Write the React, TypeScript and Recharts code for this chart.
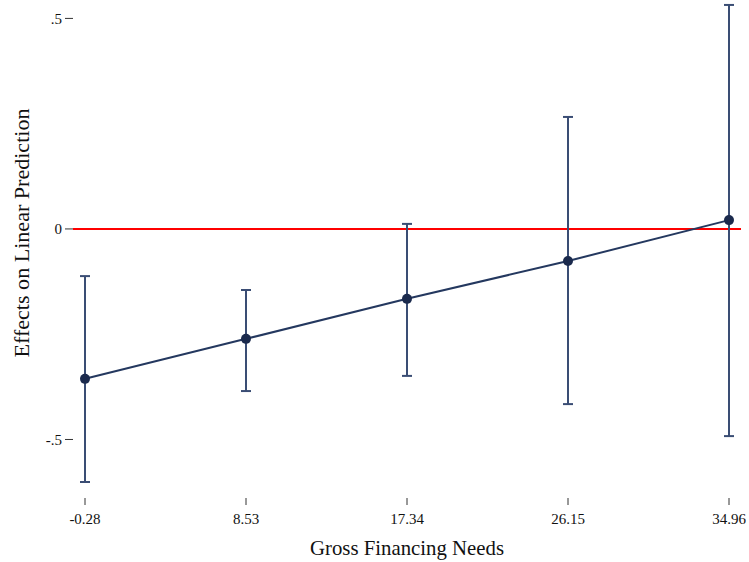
import React from 'react';
import { LineChart, Line, XAxis, YAxis, ErrorBar, ReferenceLine } from 'recharts';

// Marginal effects of gross financing needs, with 95% CIs.
const gfnLevels = [-0.28, 8.53, 17.34, 26.15, 34.96];
const effect = [-0.356, -0.261, -0.166, -0.076, 0.021];
const ciLow = [-0.601, -0.385, -0.349, -0.416, -0.492];
const ciHigh = [-0.112, -0.145, 0.012, 0.266, 0.532];
const yTicks = [-0.5, 0, 0.5];
const yTickLabels = ['-.5', '0', '.5'];

const data = gfnLevels.map((x, i) => ({
  x,
  effect: effect[i],
  err: [effect[i] - ciLow[i], ciHigh[i] - effect[i]],
}));

const FONT = '"Liberation Serif", "Times New Roman", serif';
const LINE = '#24385f';
const BAR = '#3a4d74';

function XTitle({ viewBox }: any) {
  const cx = viewBox.x + viewBox.width / 2;
  return (
    <text x={cx} y={555} textAnchor="middle" fontFamily={FONT} fontSize={21} fill="#111"
      textLength={194} lengthAdjust="spacingAndGlyphs">
      Gross Financing Needs
    </text>
  );
}

function YTitle() {
  return (
    <text x={0} y={0} transform="translate(29,233) rotate(-90)" textAnchor="middle"
      fontFamily={FONT} fontSize={21} fill="#111" textLength={249} lengthAdjust="spacingAndGlyphs">
      Effects on Linear Prediction
    </text>
  );
}

export default function App() {
  return (
    <div style={{ position: 'absolute', left: 0, top: 0, width: 749, height: 562, background: '#fff' }}>
      <LineChart width={749} height={562} data={data} margin={{ top: 2, right: 8, bottom: 0, left: 0 }}>
        <XAxis
          type="number"
          dataKey="x"
          domain={[-0.28, 34.96]}
          ticks={gfnLevels}
          tickFormatter={(v: number) => v.toFixed(2)}
          padding={{ left: 12, right: 12 }}
          axisLine={false}
          tickSize={7}
          tickMargin={8}
          tickLine={{ stroke: '#333' }}
          tick={{ fill: '#111', fontFamily: FONT, fontSize: 15 }}
          height={64}
          label={<XTitle />}
        />
        <YAxis
          type="number"
          domain={[-0.639, 0.539]}
          ticks={yTicks}
          tickFormatter={(v: number) => yTickLabels[yTicks.indexOf(v)]}
          allowDataOverflow
          axisLine={false}
          width={73}
          tickSize={8}
          tickMargin={3}
          tickLine={{ stroke: '#333' }}
          tick={{ fill: '#111', fontFamily: FONT, fontSize: 15 }}
          label={<YTitle />}
        />
        <ReferenceLine y={0} stroke="#ff0000" strokeWidth={2} />
        <Line
          type="linear"
          dataKey="effect"
          stroke={LINE}
          strokeWidth={2}
          dot={{ r: 5, fill: '#1b2a4d', stroke: '#1b2a4d', strokeWidth: 0 }}
          isAnimationActive={false}
        >
          <ErrorBar dataKey="err" direction="y" width={5} stroke={BAR} strokeWidth={2} />
        </Line>
      </LineChart>
    </div>
  );
}
